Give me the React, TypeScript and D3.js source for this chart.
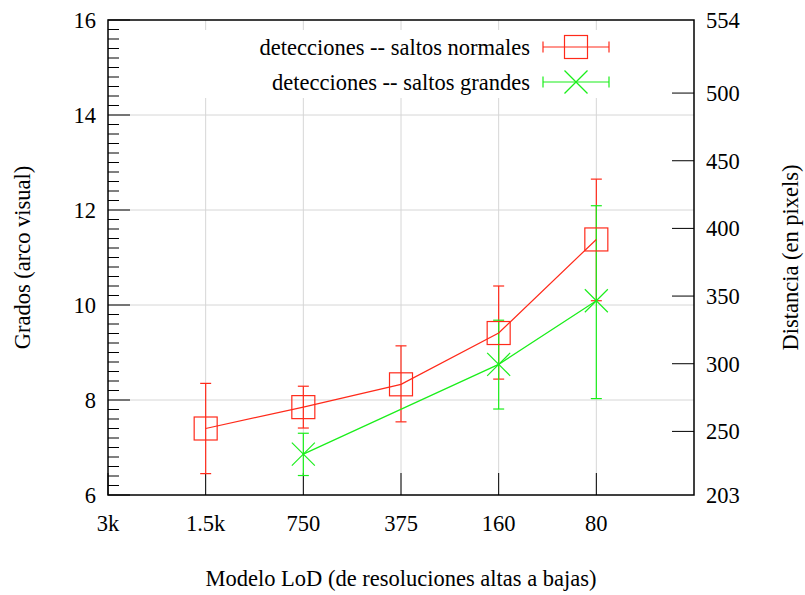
import React from "react";
import * as d3 from "d3";

const categories = ["3k", "1.5k", "750", "375", "160", "80"];

const normalesCats = ["1.5k", "750", "375", "160", "80"];
const normalesMean = [7.4, 7.85, 8.33, 9.41, 11.38];
const normalesLow = [6.45, 7.41, 7.54, 8.44, 10.09];
const normalesHigh = [8.35, 8.29, 9.14, 10.4, 12.65];

const grandesCats = ["750", "160", "80"];
const grandesMean = [6.86, 8.75, 10.09];
const grandesLow = [6.41, 7.81, 8.03];
const grandesHigh = [7.3, 9.68, 12.09];

const leftTicks = [6, 8, 10, 12, 14, 16];
const rightTicks = [250, 300, 350, 400, 450, 500];
const rightEnds = [203, 554];

const RED = "#ff2a1a";
const GREEN = "#1aee1a";
const FONT = "Liberation Serif, Times New Roman, DejaVu Serif, serif";

export default function App() {
  const L = 108, R = 694, T = 20, B = 495;
  const x = d3.scaleLinear().domain([0, 6]).range([L, R]);
  const y = d3.scaleLinear().domain([6, 16]).range([B, T]);
  const yR = d3.scaleLinear().domain([203, 554]).range([B, T]);
  const idx = (c: string) => categories.indexOf(c);
  const line = d3.line<[number, number]>().x((d) => d[0]).y((d) => d[1]);

  const minorTicks = d3.range(6.2, 16, 0.2).filter((v) => Math.abs(v / 2 - Math.round(v / 2)) > 0.01);
  const gridY = [8, 10, 12, 14];
  const majorLen = 22, minorLen = 11, cap = 5.5, ms = 11.5;
  const ts: React.CSSProperties = { fontFamily: FONT, fontSize: "22.5px" };

  const square = (cx: number, cy: number, color: string, key: string) => (
    <rect key={key} x={cx - ms} y={cy - ms} width={2 * ms} height={2 * ms} fill="none" stroke={color} strokeWidth={1.2} />
  );
  const cross = (cx: number, cy: number, color: string, key: string) => (
    <g key={key} stroke={color} strokeWidth={1.2}>
      <line x1={cx - ms} y1={cy - ms} x2={cx + ms} y2={cy + ms} />
      <line x1={cx - ms} y1={cy + ms} x2={cx + ms} y2={cy - ms} />
    </g>
  );
  const errBar = (cx: number, lo: number, hi: number, color: string, key: string) => (
    <g key={key} stroke={color} strokeWidth={1.2}>
      <line x1={cx} x2={cx} y1={y(lo)} y2={y(hi)} />
      <line x1={cx - cap} x2={cx + cap} y1={y(lo)} y2={y(lo)} />
      <line x1={cx - cap} x2={cx + cap} y1={y(hi)} y2={y(hi)} />
    </g>
  );

  const legendRows = [
    { label: "detecciones -- saltos normales", color: RED, marker: square, yy: 47 },
    { label: "detecciones -- saltos grandes", color: GREEN, marker: cross, yy: 82 },
  ];

  return (
    <svg width={805} height={595} style={{ position: "absolute", left: 0, top: 0, background: "#fff" }}>
      <rect x={0} y={0} width={805} height={595} fill="#fff" />
      {/* grid */}
      <g stroke="#d6d6d6" strokeWidth={1}>
        {categories.slice(1).map((c) => (
          <line key={"gx" + c} x1={x(idx(c))} x2={x(idx(c))} y1={T} y2={B} />
        ))}
        {gridY.map((v) => (
          <line key={"gy" + v} x1={L} x2={R} y1={y(v)} y2={y(v)} />
        ))}
      </g>
      {/* legend background */}
      <rect x={120} y={30} width={570} height={68} fill="#fff" />
      {/* ticks */}
      <g stroke="#000" strokeWidth={1}>
        {leftTicks.map((v) => (
          <line key={"lt" + v} x1={L} x2={L + majorLen} y1={y(v)} y2={y(v)} />
        ))}
        {minorTicks.map((v) => (
          <line key={"mt" + v.toFixed(1)} x1={L} x2={L + minorLen} y1={y(v)} y2={y(v)} />
        ))}
        {rightTicks.map((v) => (
          <line key={"rt" + v} x1={R - majorLen} x2={R} y1={yR(v)} y2={yR(v)} />
        ))}
        {categories.map((c) => (
          <line key={"bt" + c} x1={x(idx(c))} x2={x(idx(c))} y1={B - majorLen} y2={B} />
        ))}
      </g>
      {/* error bars */}
      {normalesCats.map((c, i) => errBar(x(idx(c)), normalesLow[i], normalesHigh[i], RED, "ne" + c))}
      {grandesCats.map((c, i) => errBar(x(idx(c)), grandesLow[i], grandesHigh[i], GREEN, "ge" + c))}
      {/* lines */}
      <path d={line(normalesCats.map((c, i) => [x(idx(c)), y(normalesMean[i])])) || ""} fill="none" stroke={RED} strokeWidth={1.2} />
      <path d={line(grandesCats.map((c, i) => [x(idx(c)), y(grandesMean[i])])) || ""} fill="none" stroke={GREEN} strokeWidth={1.2} />
      {/* markers */}
      {normalesCats.map((c, i) => square(x(idx(c)), y(normalesMean[i]), RED, "nm" + c))}
      {grandesCats.map((c, i) => cross(x(idx(c)), y(grandesMean[i]), GREEN, "gm" + c))}
      {/* border */}
      <rect x={L} y={T} width={R - L} height={B - T} fill="none" stroke="#000" strokeWidth={1.5} />
      {/* tick labels */}
      <g fill="#000">
        {leftTicks.map((v) => (
          <text key={"ll" + v} style={ts} x={96} y={y(v)} dy="0.35em" textAnchor="end">{v}</text>
        ))}
        {[...rightTicks, ...rightEnds].map((v) => (
          <text key={"rl" + v} style={ts} x={706} y={yR(v)} dy="0.35em" textAnchor="start">{v}</text>
        ))}
        {categories.map((c) => (
          <text key={"bl" + c} style={ts} x={x(idx(c))} y={523} dy="0.35em" textAnchor="middle">{c}</text>
        ))}
        <text style={ts} x={(L + R) / 2} y={578} dy="0.35em" textAnchor="middle">Modelo LoD (de resoluciones altas a bajas)</text>
        <text style={ts} transform={`translate(22,${(T + B) / 2}) rotate(-90)`} dy="0.35em" textAnchor="middle">Grados (arco visual)</text>
        <text style={ts} transform={`translate(790,${(T + B) / 2}) rotate(-90)`} dy="0.35em" textAnchor="middle">Distancia (en pixels)</text>
      </g>
      {/* legend */}
      {legendRows.map((r) => (
        <g key={r.label}>
          <text style={ts} x={530} y={r.yy} dy="0.35em" textAnchor="end">{r.label}</text>
          <g stroke={r.color} strokeWidth={1.2}>
            <line x1={543} x2={609} y1={r.yy} y2={r.yy} />
            <line x1={543} x2={543} y1={r.yy - cap} y2={r.yy + cap} />
            <line x1={609} x2={609} y1={r.yy - cap} y2={r.yy + cap} />
          </g>
          {r.marker(576, r.yy, r.color, "lm" + r.label)}
        </g>
      ))}
    </svg>
  );
}
